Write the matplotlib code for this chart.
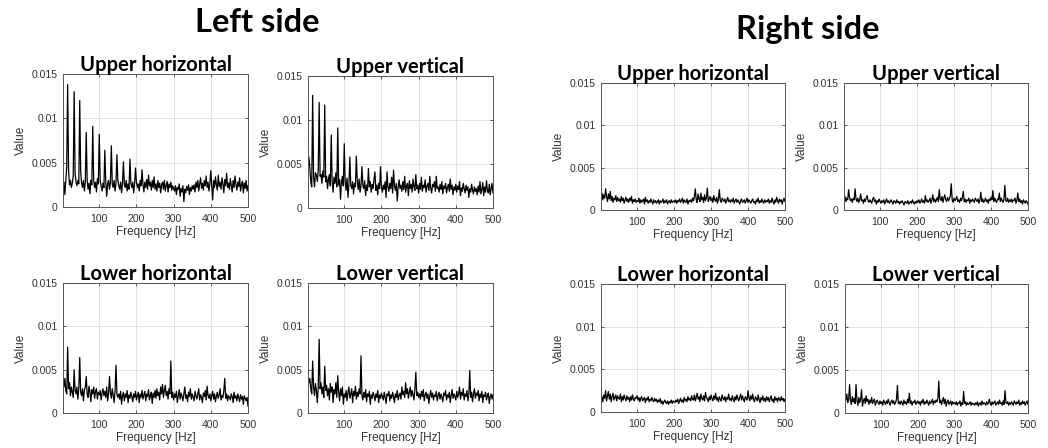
import numpy as np
import matplotlib
matplotlib.use("Agg")
import matplotlib.pyplot as plt

# Frequency grid (Hz) - 2.5 Hz resolution, 2.5 .. 500 Hz
FREQ_STEP = 2.5
N_POINTS = 200
freq = FREQ_STEP * np.arange(1, N_POINTS + 1)

SCALE = 1e-4  # values below are in units of 1e-4

side_titles = ["Left side", "Right side"]
panel_titles = ["Upper horizontal", "Upper vertical", "Lower horizontal", "Lower vertical"]
x_ticks = [100, 200, 300, 400, 500]
y_ticks = [0, 0.005, 0.01, 0.015]
y_ticklabels = ["0", "0.005", "0.01", "0.015"]

left_upper_horizontal = [
    26, 28, 14, 30, 45, 138, 42, 25, 30, 22, 27, 35, 130, 38, 28, 24, 30, 26, 120, 40,
    27, 22, 30, 18, 28, 84, 30, 20, 27, 15, 30, 25, 91, 30, 22, 28, 17, 32, 26, 82,
    30, 24, 18, 27, 22, 64, 28, 12, 26, 30, 20, 28, 69, 26, 22, 30, 18, 26, 59, 30,
    24, 20, 28, 16, 27, 51, 25, 22, 30, 18, 26, 20, 54, 27, 22, 28, 16, 26, 44, 28,
    22, 26, 18, 30, 24, 42, 26, 17, 28, 22, 31, 20, 36, 24, 28, 19, 30, 22, 34, 20,
    26, 18, 30, 22, 27, 16, 25, 28, 20, 30, 18, 24, 29, 17, 26, 22, 28, 19, 24, 21,
    18, 24, 14, 22, 20, 26, 12, 21, 17, 24, 6, 20, 16, 23, 19, 25, 14, 22, 18, 24,
    20, 25, 17, 28, 22, 30, 18, 26, 33, 21, 27, 19, 30, 24, 35, 22, 28, 18, 26, 41,
    24, 8, 30, 22, 34, 25, 19, 36, 23, 28, 20, 33, 26, 16, 31, 24, 38, 22, 27, 20,
    32, 24, 17, 30, 22, 35, 26, 19, 28, 23, 33, 18, 25, 29, 16, 27, 21, 30, 18, 24,
]
left_upper_vertical = [
    50, 58, 45, 30, 24, 128, 35, 24, 40, 38, 30, 42, 120, 36, 38, 28, 42, 35, 117, 30,
    36, 22, 33, 38, 25, 83, 30, 18, 35, 28, 40, 24, 91, 26, 32, 10, 30, 36, 25, 73,
    30, 20, 34, 12, 27, 58, 26, 22, 30, 16, 28, 24, 59, 30, 21, 33, 18, 25, 47, 26,
    22, 31, 14, 26, 20, 45, 24, 30, 18, 27, 22, 33, 41, 20, 26, 15, 28, 22, 47, 24,
    18, 26, 21, 30, 12, 41, 24, 19, 28, 22, 35, 17, 43, 25, 20, 28, 8, 24, 32, 22,
    26, 19, 30, 21, 36, 18, 25, 28, 14, 31, 22, 27, 18, 33, 24, 20, 38, 22, 26, 17,
    28, 21, 35, 19, 26, 23, 32, 18, 25, 28, 20, 36, 22, 17, 27, 24, 30, 19, 36, 22,
    24, 18, 27, 21, 30, 16, 25, 22, 28, 17, 23, 27, 19, 33, 21, 26, 15, 24, 20, 27,
    18, 25, 21, 30, 14, 23, 19, 28, 22, 17, 26, 20, 24, 12, 22, 18, 27, 20, 16, 24,
    19, 22, 15, 25, 18, 30, 16, 21, 29, 14, 24, 18, 31, 20, 17, 27, 15, 22, 28, 17,
]
left_lower_horizontal = [
    38, 30, 40, 26, 22, 76, 28, 35, 20, 30, 24, 18, 50, 26, 22, 30, 16, 28, 64, 24,
    20, 28, 14, 26, 30, 42, 22, 18, 31, 24, 13, 27, 22, 30, 17, 25, 28, 16, 24, 21,
    26, 15, 23, 28, 20, 25, 18, 30, 14, 22, 42, 24, 17, 28, 20, 12, 26, 55, 22, 18,
    22, 16, 25, 10, 20, 24, 14, 22, 18, 26, 12, 21, 17, 24, 19, 13, 22, 18, 25, 15,
    20, 24, 12, 22, 18, 26, 16, 21, 25, 14, 22, 19, 27, 15, 20, 24, 11, 23, 18, 26,
    17, 28, 20, 24, 15, 30, 22, 33, 18, 26, 32, 20, 25, 16, 28, 22, 60, 18, 24, 15,
    22, 18, 25, 12, 20, 27, 16, 23, 19, 14, 22, 30, 17, 21, 13, 24, 19, 28, 16, 22,
    18, 14, 25, 20, 16, 22, 28, 15, 21, 18, 12, 23, 19, 26, 15, 31, 20, 17, 22, 14,
    20, 25, 16, 22, 13, 19, 24, 17, 21, 28, 15, 20, 18, 26, 40, 17, 22, 14, 20, 18,
    15, 22, 19, 12, 24, 17, 20, 14, 22, 18, 13, 21, 16, 19, 10, 20, 17, 14, 18, 8,
]
left_lower_vertical = [
    38, 35, 40, 28, 22, 60, 30, 20, 34, 26, 12, 30, 85, 28, 35, 22, 30, 18, 54, 26,
    32, 20, 28, 15, 34, 24, 30, 12, 27, 22, 35, 18, 43, 24, 14, 28, 20, 30, 10, 22,
    18, 26, 14, 24, 30, 17, 22, 28, 12, 25, 20, 31, 16, 24, 19, 28, 22, 66, 20, 15,
    24, 18, 27, 13, 22, 19, 25, 10, 21, 17, 24, 20, 14, 22, 18, 26, 12, 21, 17, 23,
    19, 15, 24, 18, 11, 22, 20, 25, 14, 21, 17, 24, 19, 12, 22, 18, 26, 15, 20, 23,
    16, 30, 21, 25, 18, 35, 22, 28, 17, 24, 30, 19, 26, 21, 15, 28, 47, 20, 24, 18,
    22, 16, 25, 19, 27, 14, 21, 24, 17, 22, 11, 20, 26, 18, 23, 15, 21, 19, 25, 14,
    20, 24, 16, 22, 18, 13, 23, 20, 26, 15, 21, 18, 24, 12, 20, 27, 17, 22, 19, 15,
    25, 18, 22, 30, 16, 24, 20, 28, 15, 22, 19, 26, 14, 21, 49, 18, 24, 13, 22, 28,
    17, 23, 20, 26, 14, 22, 18, 25, 12, 21, 19, 24, 15, 20, 23, 11, 19, 22, 16, 21,
]
right_upper_horizontal = [
    15, 20, 12, 18, 14, 25, 16, 10, 19, 13, 22, 11, 16, 9, 14, 12, 17, 10, 15, 11,
    13, 9, 16, 11, 14, 8, 12, 15, 10, 13, 9, 14, 11, 16, 8, 12, 10, 13, 9, 11,
    10, 14, 8, 12, 9, 11, 13, 7, 15, 10, 12, 8, 11, 9, 13, 10, 7, 12, 9, 11,
    8, 10, 12, 7, 11, 9, 10, 13, 8, 11, 9, 12, 7, 10, 11, 8, 12, 9, 10, 11,
    9, 12, 8, 11, 10, 13, 9, 11, 14, 8, 12, 10, 9, 13, 7, 11, 10, 12, 9, 14,
    11, 16, 25, 12, 9, 19, 13, 10, 20, 12, 15, 9, 18, 11, 14, 26, 10, 13, 16, 11,
    14, 9, 17, 12, 10, 15, 8, 13, 24, 11, 9, 14, 12, 10, 13, 8, 11, 15, 10, 12,
    9, 12, 10, 14, 8, 11, 13, 9, 12, 10, 7, 11, 13, 9, 10, 12, 8, 11, 14, 9,
    12, 10, 8, 11, 13, 9, 10, 7, 12, 10, 14, 8, 11, 9, 13, 10, 8, 12, 9, 11,
    10, 13, 8, 11, 9, 14, 10, 7, 12, 9, 15, 11, 8, 13, 10, 12, 7, 11, 14, 10,
]
right_upper_vertical = [
    13, 16, 10, 14, 12, 24, 15, 11, 13, 9, 14, 12, 25, 13, 10, 14, 9, 12, 19, 11,
    12, 8, 13, 10, 14, 17, 11, 9, 12, 10, 8, 13, 15, 10, 12, 7, 11, 9, 13, 10,
    8, 11, 9, 12, 7, 10, 13, 9, 11, 8, 10, 12, 9, 7, 11, 10, 8, 12, 9, 10,
    7, 10, 9, 11, 8, 6, 10, 9, 8, 11, 7, 9, 10, 8, 12, 9, 7, 10, 8, 11,
    9, 12, 8, 10, 13, 9, 11, 8, 17, 10, 12, 9, 11, 14, 8, 12, 18, 10, 13, 9,
    12, 15, 10, 24, 13, 11, 16, 9, 14, 18, 12, 10, 15, 11, 13, 17, 31, 12, 9, 14,
    11, 13, 16, 10, 12, 9, 14, 11, 15, 22, 10, 13, 9, 12, 11, 14, 8, 12, 10, 13,
    11, 9, 14, 12, 10, 13, 8, 12, 21, 10, 13, 9, 11, 14, 10, 12, 8, 13, 11, 15,
    12, 23, 10, 14, 11, 9, 13, 12, 20, 10, 14, 11, 9, 13, 29, 11, 10, 14, 9, 12,
    10, 13, 9, 12, 11, 14, 8, 12, 20, 10, 13, 9, 11, 7, 12, 10, 8, 11, 9, 7,
]
right_lower_horizontal = [
    14, 18, 12, 20, 16, 25, 13, 19, 24, 15, 21, 12, 18, 22, 14, 17, 20, 13, 19, 16,
    15, 21, 12, 18, 14, 20, 16, 13, 19, 15, 17, 12, 18, 14, 20, 15, 13, 17, 16, 19,
    14, 17, 12, 16, 18, 13, 15, 17, 11, 16, 14, 18, 12, 15, 13, 17, 14, 12, 16, 13,
    15, 11, 14, 12, 16, 10, 13, 9, 12, 14, 11, 10, 13, 9, 12, 11, 14, 10, 13, 12,
    11, 14, 12, 15, 10, 13, 16, 12, 14, 11, 17, 13, 15, 12, 18, 14, 16, 13, 19, 15,
    14, 20, 13, 17, 22, 15, 18, 12, 21, 16, 14, 19, 13, 23, 17, 15, 12, 18, 14, 20,
    16, 13, 19, 15, 22, 14, 17, 12, 18, 15, 13, 20, 16, 14, 18, 12, 17, 15, 21, 14,
    16, 13, 19, 15, 12, 18, 14, 20, 16, 13, 17, 21, 14, 19, 15, 12, 18, 16, 14, 25,
    17, 13, 19, 15, 21, 14, 12, 18, 16, 13, 20, 15, 11, 17, 14, 19, 13, 16, 12, 18,
    14, 17, 12, 16, 19, 13, 15, 11, 18, 14, 16, 12, 17, 15, 13, 18, 14, 16, 12, 15,
]
right_lower_vertical = [
    18, 15, 22, 12, 16, 33, 14, 10, 19, 13, 17, 11, 33, 15, 9, 18, 12, 16, 27, 8,
    14, 17, 11, 20, 13, 16, 10, 15, 12, 18, 11, 14, 16, 9, 13, 15, 12, 10, 14, 11,
    13, 9, 15, 12, 10, 14, 11, 16, 12, 9, 13, 15, 11, 14, 10, 12, 16, 32, 11, 13,
    10, 14, 12, 9, 15, 11, 13, 10, 16, 12, 23, 11, 14, 9, 13, 12, 15, 10, 12, 14,
    11, 13, 9, 14, 12, 16, 10, 13, 11, 15, 12, 9, 14, 11, 13, 16, 10, 14, 12, 15,
    13, 17, 37, 12, 15, 10, 14, 18, 11, 16, 8, 13, 15, 10, 12, 14, 9, 13, 11, 12,
    10, 13, 9, 12, 11, 14, 8, 12, 10, 25, 11, 13, 9, 12, 10, 11, 13, 9, 12, 10,
    11, 9, 12, 10, 13, 8, 11, 12, 9, 14, 10, 12, 11, 9, 13, 10, 12, 16, 11, 9,
    13, 10, 12, 14, 9, 11, 13, 10, 15, 11, 12, 9, 14, 10, 26, 12, 11, 13, 9, 12,
    10, 13, 11, 9, 14, 12, 10, 13, 11, 15, 9, 12, 10, 14, 11, 13, 9, 12, 14, 10,
]

W, H = 1048, 448
fig = plt.figure(figsize=(W / 100, H / 100), dpi=100)
fig.patch.set_facecolor("white")

# pixel boxes (left, right, top, bottom)
boxes = [
    (63, 248, 74, 207), (308, 493, 76, 208), (63, 248, 283, 413), (308, 493, 283, 413),
    (601, 785, 83, 210), (844, 1028, 83, 210), (601, 785, 284, 412), (845, 1028, 284, 413),
]
series = [
    left_upper_horizontal, left_upper_vertical, left_lower_horizontal, left_lower_vertical,
    right_upper_horizontal, right_upper_vertical, right_lower_horizontal, right_lower_vertical,
]

AX_COL = "#404040"
TICK_FONT = "Liberation Sans"
TITLE_FONT = "Lato"

for k, ((l, r, t, b), vals) in enumerate(zip(boxes, series)):
    ax = fig.add_axes([l / W, 1 - b / H, (r - l) / W, (b - t) / H])
    ax.plot(freq, np.array(vals) * SCALE, color="black", lw=0.9)
    ax.set_xlim(freq[0], 500)
    ax.set_ylim(0, 0.015)
    ax.set_xticks(x_ticks)
    ax.set_yticks(y_ticks)
    ax.set_yticklabels(y_ticklabels)
    ax.grid(True, color="#e3e3e3", lw=0.7)
    ax.set_axisbelow(True)
    ax.tick_params(direction="in", length=2.5, width=0.6, colors=AX_COL,
                   labelsize=7.5, top=True, right=True)
    ax.tick_params(axis="x", pad=5)
    ax.tick_params(axis="y", pad=4)
    for lab in ax.get_xticklabels() + ax.get_yticklabels():
        lab.set_fontfamily(TICK_FONT)
        lab.set_color("#333333")
    for sp in ax.spines.values():
        sp.set_color("#555555")
        sp.set_linewidth(0.7)
    ax.set_xlabel("Frequency [Hz]", fontsize=8.5, family=TICK_FONT, color="#333333", labelpad=1.5)
    ax.set_ylabel("Value", fontsize=8.5, family=TICK_FONT, color="#333333", labelpad=3)
    ax.set_title(panel_titles[k % 4], fontsize=14.5, fontweight="bold", family=TITLE_FONT,
                 color="black", pad=2)

fig.text(257 / W, 1 - 22 / H, side_titles[0], ha="center", va="center",
         fontsize=23.5, fontweight="bold", family=TITLE_FONT)
fig.text(808 / W, 1 - 30 / H, side_titles[1], ha="center", va="center",
         fontsize=23.5, fontweight="bold", family=TITLE_FONT)

fig.savefig("out.png", dpi=100, facecolor="white")
